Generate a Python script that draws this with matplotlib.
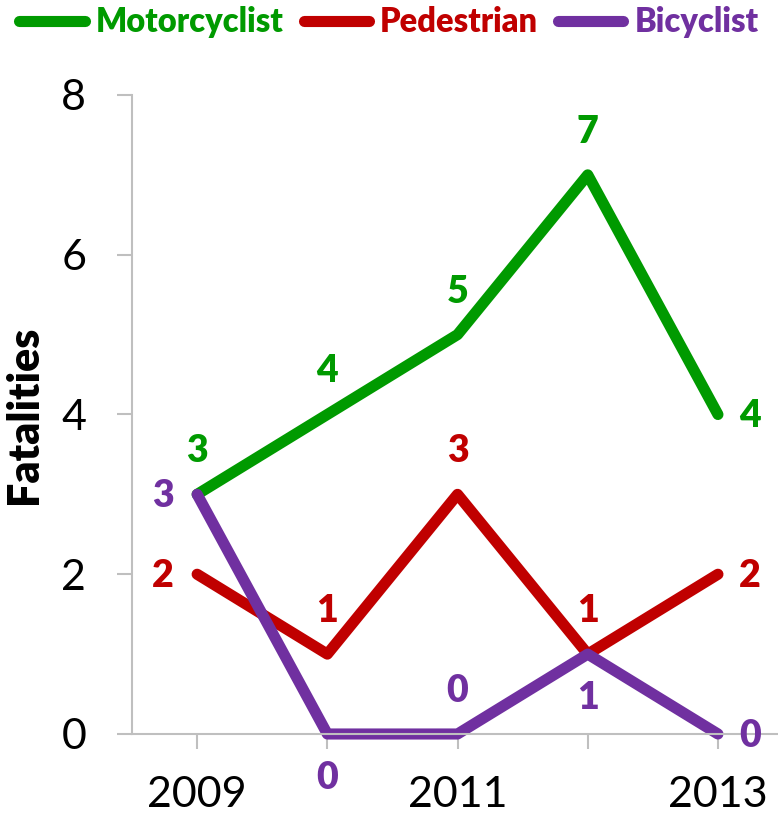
import matplotlib
matplotlib.use("Agg")
import matplotlib.pyplot as plt
from matplotlib.lines import Line2D

plt.rcParams['font.family'] = ['Lato', 'DejaVu Sans']

years = [2009, 2010, 2011, 2012, 2013]
year_labels = ['2009', '', '2011', '', '2013']
motorcyclist = [3, 4, 5, 7, 4]
pedestrian = [2, 1, 3, 1, 2]
bicyclist = [3, 0, 0, 1, 0]

series = [
    ('Motorcyclist', motorcyclist, '#009A00', ['above', 'above', 'above', 'above', 'right']),
    ('Pedestrian', pedestrian, '#C00000', ['left', 'above', 'above', 'above', 'right']),
    ('Bicyclist', bicyclist, '#7030A0', ['left', 'below', 'above', 'below', 'right']),
]

# pixel offsets for data label placement
offsets = {'above': (0, 43), 'below': (0, -44), 'left': (-34, -2), 'right': (32, -2)}

fig = plt.figure(figsize=(7.78, 8.16), dpi=100)
ax = fig.add_axes([0.1697, 0.1005, 0.8368, 0.7831])

for name, vals, color, pos in series:
    ax.plot(years, vals, color=color, lw=8, solid_capstyle='round',
            solid_joinstyle='round', label=name, clip_on=False)
    for x, y, p in zip(years, vals, pos):
        ax.annotate(str(y), (x, y), xytext=offsets[p], textcoords='offset pixels',
                    ha='center', va='center', color=color, fontsize=27,
                    fontweight='heavy', annotation_clip=False)

ax.set_xlim(2008.5, 2013.5)
ax.set_ylim(0, 8)
ax.set_xticks(years)
ax.set_xticklabels(year_labels)
ax.set_yticks([0, 2, 4, 6, 8])
ax.tick_params(axis='x', length=11, width=1.5, color='#BFBFBF', labelsize=31, pad=19)
ax.tick_params(axis='y', length=11, width=1.5, color='#BFBFBF', labelsize=31, pad=22)
for s in ['top', 'right']:
    ax.spines[s].set_visible(False)
for s in ['left', 'bottom']:
    ax.spines[s].set_color('#BFBFBF')
    ax.spines[s].set_linewidth(1.5)
ax.set_ylabel('Fatalities', fontsize=31, fontweight='heavy')
ax.yaxis.set_label_coords(-0.135, 0.5)

handles = [Line2D([], [], color=c, lw=8, solid_capstyle='round') for _, _, c, _ in series]
leg = fig.legend(handles, [n for n, _, _, _ in series], loc='center', bbox_to_anchor=(0.5, 0.973),
                 ncol=3, frameon=False, handlelength=2.0, handletextpad=0.35,
                 columnspacing=0.6, prop={'size': 23.5, 'weight': 'heavy'}, labelcolor='linecolor')

fig.savefig('out.png', dpi=100)
